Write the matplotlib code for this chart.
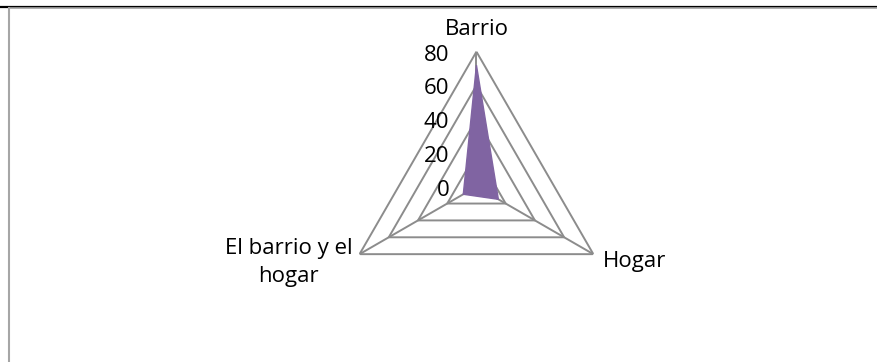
import numpy as np
import matplotlib
matplotlib.use("Agg")
import matplotlib.pyplot as plt
from matplotlib.lines import Line2D

# Datos del radar
categorias = ["Barrio", "Hogar", "El barrio y el\nhogar"]
valores = [72, 15, 9]
niveles = [20, 40, 60, 80]
etiquetas_eje = ["0", "20", "40", "60", "80"]

plt.rcParams["font.family"] = ["Open Sans", "DejaVu Sans"]
fs = 16

fig = plt.figure(figsize=(8.78, 3.62), dpi=100)
ax = fig.add_axes([0.3889, 0.1114, 0.3075, 0.7459], projection="polar")
ax.set_theta_zero_location("N")
ax.set_theta_direction(-1)
ax.set_ylim(0, 80)
ax.grid(False)
ax.spines["polar"].set_visible(False)
ax.set_xticks([])
ax.set_yticks([])
ax.patch.set_alpha(0)

n = len(categorias)
ang = np.arange(n) * 2 * np.pi / n
ang_c = np.append(ang, ang[0])

gris = "#8c8c8c"
# rejilla triangular
for nv in niveles:
    ax.plot(ang_c, [nv] * (n + 1), color=gris, lw=1.4, zorder=1)
# ejes radiales
for a in ang:
    ax.plot([a, a], [0, 80], color=gris, lw=1.4, zorder=1)

# serie
v_c = np.append(valores, valores[0])
ax.fill(ang_c, v_c, color="#8064A2", zorder=2)

# etiquetas del eje de valores
for i, t in enumerate(etiquetas_eje):
    ax.annotate(t, xy=(0, i * 20), xytext=(-19.5, -2.5), textcoords="offset points",
                ha="right", va="center", fontsize=fs, color="black", zorder=3)

# etiquetas de categoria
ax.annotate(categorias[0], xy=(ang[0], 80), xytext=(0, 16), textcoords="offset points",
            ha="center", va="center", fontsize=fs)
ax.annotate(categorias[1], xy=(ang[1], 80), xytext=(7, -5), textcoords="offset points",
            ha="left", va="center", fontsize=fs)
ax.annotate(categorias[2], xy=(ang[2], 80), xytext=(-5, -6), textcoords="offset points",
            ha="right", va="center", fontsize=fs, multialignment="center",
            linespacing=1.45)

# marco del area
W, H = 878, 362
fig.add_artist(Line2D([0, 1], [1 - 6.5 / H, 1 - 6.5 / H], color="black", lw=1.6,
                      transform=fig.transFigure))
fig.add_artist(Line2D([8.5 / W, 1], [1 - 8.3 / H, 1 - 8.3 / H], color="#a6a6a6", lw=1.2,
                      transform=fig.transFigure))
fig.add_artist(Line2D([8.8 / W, 8.8 / W], [0, 1 - 8 / H], color="#a6a6a6", lw=1.5,
                      transform=fig.transFigure))

fig.savefig("out.png", dpi=100)
